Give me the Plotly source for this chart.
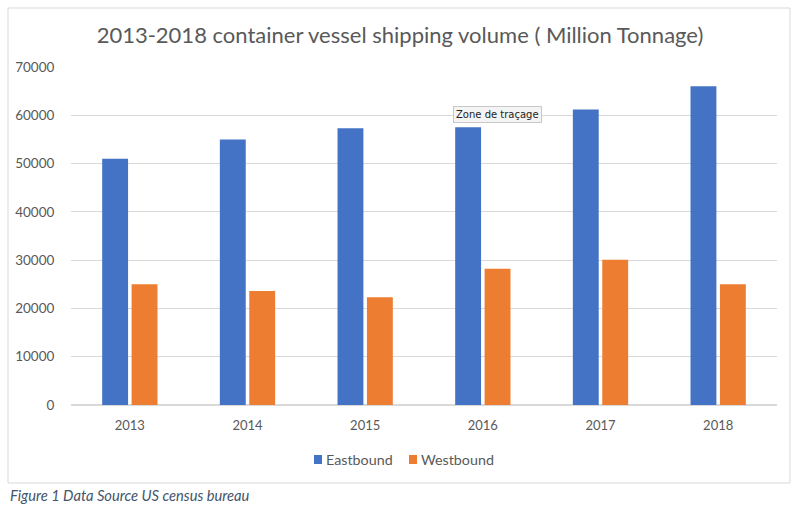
import plotly.graph_objects as go

years = ["2013", "2014", "2015", "2016", "2017", "2018"]
eastbound = [51000, 55000, 57300, 57500, 61200, 66000]
westbound = [25000, 23600, 22300, 28200, 30100, 25000]
y_ticks = [0, 10000, 20000, 30000, 40000, 50000, 60000, 70000]
y_tick_labels = ["0", "10000", "20000", "30000", "40000", "50000", "60000", "70000"]
series_names = ["Eastbound", "Westbound"]
series_colors = ["#4472C4", "#ED7D31"]

fig = go.Figure()
fig.add_trace(go.Bar(name=series_names[0], x=years, y=eastbound, marker_color=series_colors[0],
                     marker_line_width=0, showlegend=False))
fig.add_trace(go.Bar(name=series_names[1], x=years, y=westbound, marker_color=series_colors[1],
                     marker_line_width=0, showlegend=False))

font_main = "Lato, Open Sans, sans-serif"

# plot area in pixels: x 71..777, y 67..405
PL, PR, PT, PB = 71, 777, 67, 405
W, H = PR - PL, PB - PT


def px(x):
    return (x - PL) / W


def py(y):
    return (PB - y) / H


shapes = [dict(type="rect", xref="paper", yref="paper",
               x0=px(8), x1=px(790), y0=py(483), y1=py(8),
               line=dict(color="#D9D9D9", width=1), fillcolor="rgba(0,0,0,0)", layer="below")]
annotations = [
    dict(text="<i>Figure 1 Data Source US census bureau</i>", xref="paper", yref="paper",
         x=px(8), xanchor="left", y=py(495), yanchor="middle", showarrow=False,
         font=dict(family=font_main, size=14.7, color="#44546A")),
    dict(text="Zone de traçage", xref="paper", yref="paper",
         x=px(497), xanchor="center", y=py(114), yanchor="middle",
         showarrow=False, bgcolor="#F4F4F4", bordercolor="#C8C8C8", borderwidth=1, borderpad=2,
         font=dict(family="DejaVu Sans, sans-serif", size=10, color="#222222")),
]

# custom compact legend (Excel style)
legend_sq_x = [314, 409]
legend_y = 459
for name, color, sx in zip(series_names, series_colors, legend_sq_x):
    shapes.append(dict(type="rect", xref="paper", yref="paper",
                       x0=px(sx), x1=px(sx + 8), y0=py(legend_y + 5), y1=py(legend_y - 4),
                       line=dict(width=0), fillcolor=color))
    annotations.append(dict(text=name, xref="paper", yref="paper", x=px(sx + 10), xanchor="left",
                            y=py(legend_y), yanchor="middle", showarrow=False,
                            font=dict(family=font_main, size=14.3, color="#595959")))

fig.update_layout(
    width=800, height=510,
    margin=dict(l=PL, r=800 - PR, t=PT, b=510 - PB),
    paper_bgcolor="white", plot_bgcolor="white",
    barmode="group", bargap=0.5, bargroupgap=0.12,
    title=dict(text="2013-2018 container vessel shipping volume ( Million Tonnage)",
               x=0.5, xref="container", xanchor="center", y=1 - 35 / 510, yanchor="middle",
               font=dict(family=font_main, size=22, color="#595959")),
    font=dict(family=font_main, size=13, color="#595959"),
    showlegend=False,
    xaxis=dict(showgrid=False, showline=False, ticks="outside", ticklen=8,
               tickcolor="rgba(0,0,0,0)", tickfont=dict(size=13, color="#595959")),
    yaxis=dict(range=[0, 70000], tickvals=y_ticks, ticktext=y_tick_labels, showgrid=True,
               gridcolor="#D9D9D9", gridwidth=1, zeroline=True, zerolinecolor="#D9D9D9",
               showline=False, ticks="outside", ticklen=13, tickcolor="rgba(0,0,0,0)",
               tickfont=dict(size=13.5, color="#595959")),
    shapes=shapes,
    annotations=annotations,
)

fig.write_html("out.html")
